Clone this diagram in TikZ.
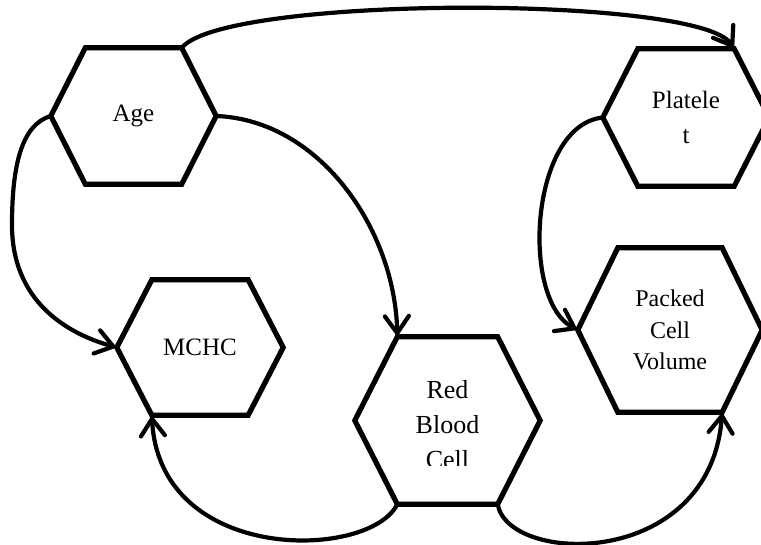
\documentclass[tikz,border=0pt]{standalone}
\usepackage{fontspec}
\setmainfont{Liberation Serif}
\usetikzlibrary{arrows.meta,calc}
\newcommand{\drawhex}[2]{%
  \coordinate (#1-nw) at ([xshift=#2]#1.north west);
  \coordinate (#1-ne) at ([xshift=-#2]#1.north east);
  \coordinate (#1-se) at ([xshift=-#2]#1.south east);
  \coordinate (#1-sw) at ([xshift=#2]#1.south west);
  \draw[hexline] (#1.west) -- (#1-nw) -- (#1-ne) -- (#1.east) -- (#1-se) -- (#1-sw) -- cycle;}
\begin{document}
\begin{tikzpicture}[x=1pt,y=-1pt,
  hexnode/.style={inner sep=0pt, align=center, text width=120pt, font=\fontsize{25}{35}\selectfont},
  hexline/.style={line width=5.2pt, line join=miter},
  link/.style={line width=4.2pt, -{Straight Barb[length=17pt,width=24pt,line cap=round]}}]
\useasboundingbox (0,0) rectangle (761,545);
\clip (0,0) rectangle (761,545);
\node[hexnode, minimum width=165pt, minimum height=136pt] (age) at (133.5,116) {Age};
\node[hexnode, minimum width=166pt, minimum height=137pt] (plt) at (686,117.5) {Platele\\t};
\node[hexnode, minimum width=166pt, minimum height=135pt] (mchc) at (200,347.5) {MCHC};
\node[hexnode, minimum width=185pt, minimum height=167pt] (rbc) at (447.5,420.5) {};
\node[hexnode, minimum width=184pt, minimum height=164pt, font=\fontsize{24}{31.5}\selectfont] (pcv) at (670,330) {Packed\\Cell\\Volume};
\begin{scope}
  \clip (340,330) rectangle (560,465);
  \node[hexnode, font=\fontsize{26}{35}\selectfont] (rbctext) at (447.5,424.5) {Red\\Blood\\Cell};
\end{scope}
\drawhex{age}{34.5pt}
\drawhex{plt}{35pt}
\drawhex{mchc}{35pt}
\drawhex{rbc}{42.5pt}
\drawhex{pcv}{40pt}
\draw[link] (age-ne) .. controls (225,-5) and (700,-5) .. (plt-ne);
\draw[link] (age.east) .. controls (320,120) and (395,230) .. (rbc-nw);
\draw[link] (age.west) .. controls (20,125) and (12,170) .. (12,225) .. controls (12,300) and (65,333) .. (mchc.west);
\draw[link] (rbc-sw) .. controls (370,560) and (160,565) .. (mchc-sw);
\draw[link] (rbc-se) .. controls (508,565) and (710,570) .. (pcv-se);
\draw[link] (plt.west) .. controls (530,125) and (520,300) .. (pcv.west);
\end{tikzpicture}
\end{document}
